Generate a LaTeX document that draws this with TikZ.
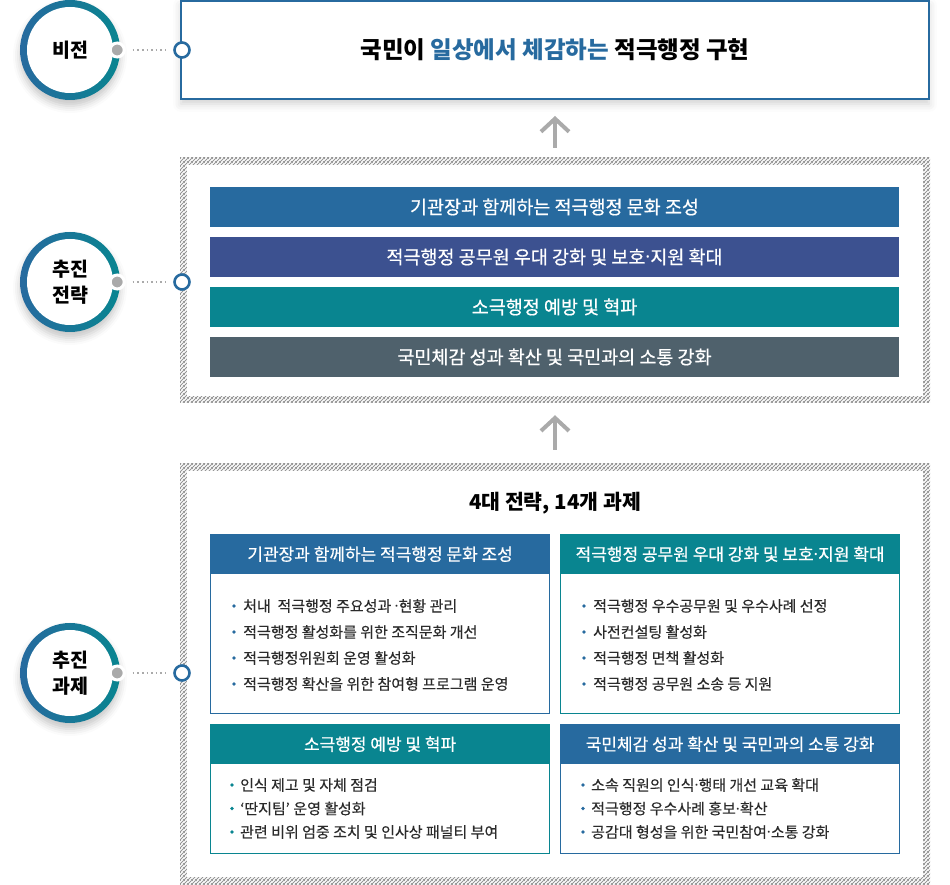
\documentclass[tikz,border=0pt]{standalone}
\usepackage{fontspec}
\setmainfont{Noto Sans CJK KR}
\newfontfamily\medfont{Noto Sans CJK KR}[FakeBold=0.6]
\newfontfamily\itemfont{Noto Sans CJK KR}[FakeBold=0.3]
\newfontfamily\latinfont{Noto Sans}
\newcommand{\md}{{\latinfont ·}}
\usetikzlibrary{arrows.meta, patterns.meta, shadows.blur, positioning}

\definecolor{vblue}{HTML}{276A9F}
\definecolor{vindigo}{HTML}{3C5190}
\definecolor{vteal}{HTML}{098590}
\definecolor{vslate}{HTML}{4F616C}
\definecolor{dotgray}{HTML}{AAAAAA}
\definecolor{hatchgray}{HTML}{949494}
\definecolor{bodytext}{HTML}{2B2B2B}

\tikzdeclarepattern{
	name=hatch, type=uncolored,
	bounding box={(0pt,0pt) and (3.6pt,3.6pt)},
	tile size={(3.6pt,3.6pt)},
	line width=0.65pt,
	code={
		\draw (-0.5pt,-0.5pt) -- (4.1pt,4.1pt);
		\draw (-1pt,2.6pt) -- (1pt,4.6pt);
		\draw (2.6pt,-1pt) -- (4.6pt,1pt);
	}
}

\tikzset{
	ringouter/.style={circle, minimum size=100pt, inner sep=0pt, left color=vblue, right color=vteal,
		blur shadow={shadow xshift=0pt, shadow yshift=-6pt, shadow blur radius=7pt, shadow opacity=22}},
	ringinner/.style={circle, fill=white, minimum size=86pt, inner sep=0pt, align=center,
		font=\bfseries\fontsize{19.5}{26}\selectfont},
	graydot/.style={circle, fill=dotgray, draw=white, line width=3pt, minimum size=14pt, inner sep=0pt},
	opendot/.style={circle, fill=white, draw=vblue, line width=2.6pt, minimum size=15pt, inner sep=0pt},
	dotline/.style={dotgray, line width=1.6pt, dash pattern=on 1.6pt off 3pt},
	uparrow/.style={-{Straight Barb[length=13pt, width=28pt]}, dotgray, line width=4pt},
	hatchframe/.style={rectangle, pattern=hatch, pattern color=hatchgray, inner sep=0pt},
	frameinner/.style={rectangle, fill=white, inner sep=0pt},
	stratbar/.style={rectangle, minimum width=689pt, minimum height=40pt, inner sep=0pt,
		text=white, font=\medfont\fontsize{18.5}{22}\selectfont},
	taskbox/.style={rectangle, fill=white, line width=1.2pt, minimum width=339pt, inner sep=0pt},
	taskhead/.style={rectangle, minimum width=339pt, minimum height=40pt, inner sep=0pt,
		text=white, font=\medfont\fontsize{17}{20}\selectfont},
	taskitem/.style={anchor=west, inner sep=0pt, text=bodytext, font=\itemfont\fontsize{15}{18}\selectfont},
}

\begin{document}
\begin{tikzpicture}[x=1pt, y=1pt]
	
	\useasboundingbox (0,0) rectangle (950,884);
	
	% =======================================================
	% HATCHED FRAMES
	% =======================================================
	\node[hatchframe, minimum width=750pt, minimum height=245pt] (stratframe) at (555,603.5) {};
	\node[frameinner, minimum width=736pt, minimum height=231pt] (stratinner) at (stratframe) {};
	
	\node[hatchframe, minimum width=750pt, minimum height=420pt] (taskframe) at (555,210) {};
	\node[frameinner, minimum width=736pt, minimum height=406pt] (taskinner) at (taskframe) {};
	
	% =======================================================
	% VISION BOX
	% =======================================================
	\node[draw=vblue, line width=2pt, fill=white, minimum width=748pt, minimum height=98pt,
	blur shadow={shadow xshift=0pt, shadow yshift=-5pt, shadow blur radius=8pt, shadow opacity=18},
	font=\bfseries\fontsize{23.5}{28}\selectfont] (vision) at (555,834)
	{국민이 \textcolor{vblue}{일상에서 체감하는} 적극행정 구현};
	
	% --- Rings on the left and their dotted links ---
	\foreach \rn/\ry/\rtxt in {vis/834/비전, strat/602/{추진\\전략}, task/211/{추진\\과제}} {
		\node[ringouter] (\rn-ring) at (70,\ry) {};
		\node[ringinner] (\rn-label) at (\rn-ring) {\rtxt};
		\node[graydot] (\rn-dot) at ([xshift=-3pt]\rn-ring.east) {};
		\node[opendot] (\rn-open) at (182,\ry) {};
		\draw[dotline] ([xshift=7pt]\rn-dot.east) -- ([xshift=-8pt]\rn-open.west);
	}
	
	% --- Upward arrows ---
	\draw[uparrow, shorten <=10pt, shorten >=16pt] (stratframe.north) -- (vision.south);
	\draw[uparrow, shorten <=14pt, shorten >=12pt] (taskframe.north) -- (stratframe.south);
	
	% =======================================================
	% STRATEGY BARS
	% =======================================================
	\foreach \btxt/\bcol [count=\i] in {
		기관장과 함께하는 적극행정 문화 조성/vblue,
		적극행정 공무원 우대 강화 및 보호\md 지원 확대/vindigo,
		소극행정 예방 및 혁파/vteal,
		국민체감 성과 확산 및 국민과의 소통 강화/vslate} {
		\node[stratbar, fill=\bcol] (bar-\i) at (554.5, {727-50*\i}) {\btxt};
	}
	
	% =======================================================
	% TASK BOXES
	% =======================================================
	\node[font=\bfseries\fontsize{20.5}{24}\selectfont] (tasktitle) at (555,381) {4대 전략, 14개 과제};
	
	\foreach \bn/\bx/\by/\bh/\bc/\btxt in {
		tl/210/350/179/vblue/기관장과 함께하는 적극행정 문화 조성,
		tr/560/350/179/vteal/적극행정 공무원 우대 강화 및 보호\md 지원 확대,
		bl/210/160/129/vteal/소극행정 예방 및 혁파,
		br/560/160/129/vblue/국민체감 성과 확산 및 국민과의 소통 강화} {
		\node[taskbox, draw=\bc, minimum height=\bh pt, anchor=north west] (\bn) at (\bx,\by) {};
		\node[taskhead, fill=\bc, anchor=north] (\bn-head) at (\bn.north) {\btxt};
	}
	
	% --- Items, top row ---
	\foreach \itxt [count=\i] in {처내\ \ 적극행정 주요성과 \md 현황 관리, 적극행정 활성화를 위한 조직문화 개선,
		적극행정위원회 운영 활성화, 적극행정 확산을 위한 참여형 프로그램 운영} {
		\node[taskitem] (tl-\i) at (243, {304-26*\i}) {\itxt};
		\fill[vblue] ([xshift=-9pt]tl-\i.west) circle (1.8pt);
	}
	\foreach \itxt [count=\i] in {적극행정 우수공무원 및 우수사례 선정, 사전컨설팅 활성화,
		적극행정 면책 활성화, 적극행정 공무원 소송 등 지원} {
		\node[taskitem] (tr-\i) at (593, {304-26*\i}) {\itxt};
		\fill[vblue] ([xshift=-9pt]tr-\i.west) circle (1.8pt);
	}
	
	% --- Items, bottom row ---
	\foreach \itxt [count=\i] in {인식 제고 및 자체 점검, ‘딴지팀’ 운영 활성화,
		관련 비위 엄중 조치 및 인사상 패널티 부여} {
		\node[taskitem] (bl-\i) at (240, {122.5-23.5*\i}) {\itxt};
		\fill[vteal] ([xshift=-8pt]bl-\i.west) circle (1.8pt);
	}
	\foreach \itxt [count=\i] in {소속 직원의 인식\md 행태 개선 교육 확대, 적극행정 우수사례 홍보\md 확산,
		공감대 형성을 위한 국민참여\md 소통 강화} {
		\node[taskitem] (br-\i) at (591, {122.5-23.5*\i}) {\itxt};
		\fill[vblue] ([xshift=-8pt]br-\i.west) circle (1.8pt);
	}
	
\end{tikzpicture}
\end{document}
